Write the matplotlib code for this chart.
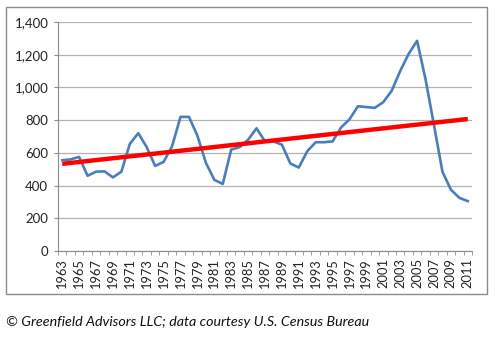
import numpy as np
import matplotlib.pyplot as plt
from matplotlib.patches import Rectangle

## Data
years = list(range(1963, 2012))
values = [555, 560, 575, 460, 485, 487, 450, 485, 655, 720,
          635, 520, 545, 640, 820, 820, 705, 540, 435, 410,
          620, 635, 680, 750, 670, 670, 650, 535, 510, 610,
          665, 665, 670, 755, 805, 885, 880, 875, 910, 980,
          1100, 1205, 1285, 1050, 770, 485, 375, 325, 305]
yticks = [0, 200, 400, 600, 800, 1000, 1200, 1400]
caption = "\u00a9 Greenfield Advisors LLC; data courtesy U.S. Census Bureau"

plt.rcParams['font.family'] = ['Lato', 'DejaVu Sans']

fig = plt.figure(figsize=(4.95, 3.40), dpi=100)
W, H = 495, 340

# outer chart border
fig.patches.append(Rectangle((6 / W, 1 - 294 / H), 481 / W, 287 / H,
                             transform=fig.transFigure, fill=False,
                             edgecolor="#8c8c8c", linewidth=1.0))

ax = fig.add_axes([58 / W, 1 - 251 / H, 414 / W, 229 / H])

x = np.arange(len(years))
ax.plot(x, values, color="#4a7ebb", linewidth=1.9, zorder=3)

# linear trendline
slope, icpt = np.polyfit(x, values, 1)
ax.plot(x, slope * x + icpt, color="#ff0000", linewidth=3.2, zorder=4,
        solid_capstyle="butt")

ax.set_xlim(-0.5, len(years) - 0.5)
ax.set_ylim(0, 1400)
ax.set_yticks(yticks)
ax.set_yticklabels([f"{v:,}" for v in yticks], fontsize=9.5, color="#222222")
ax.yaxis.grid(True, color="#b3b3b3", linewidth=0.9)
ax.set_axisbelow(True)

ax.set_xticks(x[::2])
ax.set_xticklabels([str(y) for y in years[::2]], rotation=90, fontsize=9.3,
                   color="#222222")
ax.set_xticks(np.arange(-0.5, len(years)), minor=True)
ax.tick_params(axis="x", which="major", length=0, pad=5)
ax.tick_params(axis="x", which="minor", length=3, color="#8c8c8c")
ax.tick_params(axis="y", length=3, color="#8c8c8c", pad=4)

for s in ["top", "right"]:
    ax.spines[s].set_visible(False)
for s in ["left", "bottom"]:
    ax.spines[s].set_color("#8c8c8c")

fig.text(6 / W, 1 - 322 / H, caption, fontsize=10.3, style="italic",
         va="center", ha="left", color="#111111")

fig.savefig("out.png", dpi=100)
